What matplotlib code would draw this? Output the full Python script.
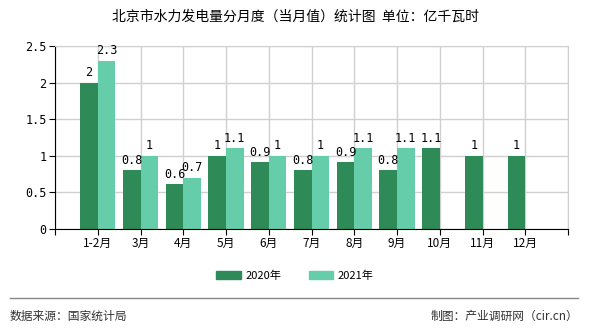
import numpy as np
import matplotlib
matplotlib.use("Agg")
import matplotlib.pyplot as plt
from matplotlib.patches import Patch

plt.rcParams['font.family'] = ['Noto Sans CJK SC', 'DejaVu Sans']

months = ["1-2月", "3月", "4月", "5月", "6月", "7月", "8月", "9月", "10月", "11月", "12月"]
vals_2020 = [2.0, 0.8, 0.61, 1.0, 0.91, 0.8, 0.91, 0.8, 1.1, 1.0, 1.0]
labels_2020 = ["2", "0.8", "0.6", "1", "0.9", "0.8", "0.9", "0.8", "1.1", "1", "1"]
vals_2021 = [2.3, 1.0, 0.7, 1.1, 1.0, 1.0, 1.1, 1.1]
labels_2021 = ["2.3", "1", "0.7", "1.1", "1", "1", "1.1", "1.1"]

c2020 = "#2e8b57"
c2021 = "#66cdaa"

fig = plt.figure(figsize=(5.9, 3.3), dpi=100)
ax = fig.add_axes([55 / 590, 1 - 229 / 330, 513 / 590, 183 / 330])

x = np.arange(1, len(months) + 1)
w = 0.41
ax.bar(x[:len(vals_2020)] - w / 2, vals_2020, w, color=c2020, zorder=2)
ax.bar(x[:len(vals_2021)] + w / 2, vals_2021, w, color=c2021, zorder=2)

for xi, v, t in zip(x, vals_2020, labels_2020):
    ax.text(xi - w / 2, v + 0.05, t, ha="center", va="bottom", fontsize=8.5,
            family="DejaVu Sans Mono")
for xi, v, t in zip(x, vals_2021, labels_2021):
    ax.text(xi + w / 2, v + 0.05, t, ha="center", va="bottom", fontsize=8.5,
            family="DejaVu Sans Mono")

ax.set_xlim(0, 12)
ax.set_ylim(0, 2.5)
ax.set_xticks(np.arange(0, 13))
ax.set_xticklabels([""] + months + [""], fontsize=8.5)
ax.set_yticks(np.arange(0, 2.51, 0.5))
ax.set_yticklabels(["0", "0.5", "1", "1.5", "2", "2.5"], fontsize=8.5,
                   family="DejaVu Sans Mono")
ax.grid(True, color="#d0d0d0", lw=1, zorder=0)
ax.tick_params(axis="both", length=4, color="black", pad=2)
for s in ["top", "right"]:
    ax.spines[s].set_color("#d0d0d0")
for s in ["left", "bottom"]:
    ax.spines[s].set_color("black")
ax.set_axisbelow(True)

fig.text(0.5, 1 - 17 / 330, "北京市水力发电量分月度（当月值）统计图  单位：亿千瓦时",
         ha="center", va="center", fontsize=10)

handles = [Patch(color=c2020, label="2020年"), Patch(color=c2021, label="2021年")]
fig.legend(handles=handles, loc="center", bbox_to_anchor=(0.5, 1 - 276 / 330),
           ncol=2, frameon=False, fontsize=8, handlelength=2.2, handleheight=0.7,
           columnspacing=2.5, handletextpad=0.4)

fig.add_artist(plt.Line2D([10 / 590, 578 / 590], [1 - 298 / 330] * 2,
                          color="#888888", lw=1))
fig.text(10 / 590, 1 - 316 / 330, "数据来源：国家统计局", ha="left", va="center",
         fontsize=8.5, color="#333333")
fig.text(578 / 590, 1 - 316 / 330, "制图：产业调研网（cir.cn）", ha="right",
         va="center", fontsize=8.5, color="#333333")

fig.savefig("out.png", dpi=100)
